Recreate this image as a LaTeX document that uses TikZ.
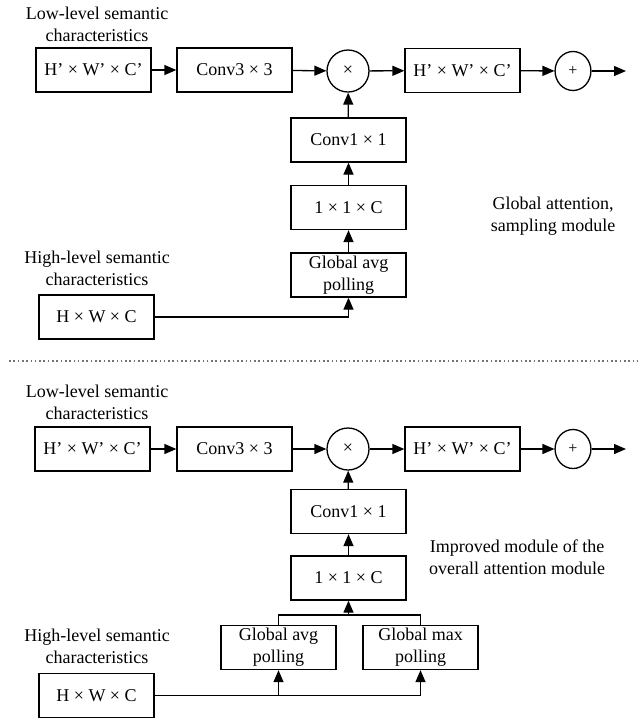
\documentclass[tikz,border=0pt]{standalone}
\usepackage{fontspec}
\setmainfont{Liberation Serif}
\usetikzlibrary{arrows.meta}
\begin{document}
\begin{tikzpicture}[x=1pt,y=-1pt,
  font=\fontsize{18pt}{22pt}\selectfont,
  box/.style={draw,line width=1.3pt,minimum width=115pt,minimum height=44pt,inner sep=0pt,align=center},
  opc/.style={draw,line width=1.3pt,circle,minimum size=42pt,inner sep=0pt},
  lbl/.style={align=center,inner sep=0pt},
  con/.style={line width=1.3pt,-{Triangle[length=12pt,width=10pt]}},
  pln/.style={line width=1.3pt}]
\useasboundingbox (0,0) rectangle (640,721);

% ---------- top section ----------
\node[lbl] (tlow) at (97,24) {Low-level semantic\\characteristics};
\node[box] (ta) at (93.5,70) {H’ × W’ × C’};
\node[box] (tc) at (234.5,70) {Conv3 × 3};
\node[opc] (tx) at (348,71) {×};
\node[box] (tb) at (462.5,70.5) {H’ × W’ × C’};
\node[draw,line width=1.3pt,circle,minimum size=39pt,inner sep=0pt,xscale=0.92] (tp) at (573,71) {};
\node[font=\fontsize{16pt}{18pt}\selectfont] at (573,71) {+};
\coordinate (tout) at (626,71);
\node[box] (tconv) at (348.5,140) {Conv1 × 1};
\node[box] (tone) at (348.5,207.5) {1 × 1 × C};
\node[box] (tavg) at (348.5,275) {Global avg\\polling};
\node[lbl] (thigh) at (97,268) {High-level semantic\\characteristics};
\node[box] (thwc) at (96.5,317) {H × W × C};
\node[lbl] (tgl) at (553,216.5) {Global attention,\\sampling module};

\draw[con] (ta) -- (tc);
\draw[con] (tc) -- (tx);
\draw[con] (tx) -- (tb);
\draw[con] (tb) -- (tp);
\draw[con] (tp) -- (tout);
\draw[con] (tconv) -- (tx);
\draw[con] (tone) -- (tconv);
\draw[con] (tavg) -- (tone);
\draw[con] (thwc.east) -| (tavg.south);

% ---------- separator ----------
\coordinate (sepL) at (9,361);
\coordinate (sepR) at (640,361);
\draw[black!55,line width=1.6pt,dash pattern=on 1.6pt off 2.7pt] (sepL) -- (sepR);

% ---------- bottom section ----------
\node[lbl] (blow) at (97,402) {Low-level semantic\\characteristics};
\node[box] (ba) at (92.5,449) {H’ × W’ × C’};
\node[box] (bc) at (234.5,449) {Conv3 × 3};
\node[opc] (bx) at (348,449) {×};
\node[box] (bb) at (462.5,449) {H’ × W’ × C’};
\node[draw,line width=1.3pt,circle,minimum size=39pt,inner sep=0pt,xscale=0.92] (bp) at (573,449) {};
\node[font=\fontsize{16pt}{18pt}\selectfont] at (573,449) {+};
\coordinate (bout) at (626,449);
\node[box] (bconv) at (348.5,511.5) {Conv1 × 1};
\node[box] (bone) at (348.5,578) {1 × 1 × C};
\node[box] (bavg) at (278.5,647.5) {Global avg\\polling};
\node[box] (bmax) at (420.5,647.5) {Global max\\polling};
\node[lbl] (bhigh) at (97,646.5) {High-level semantic\\characteristics};
\node[box] (bhwc) at (96.5,695.5) {H × W × C};
\node[lbl] (bim) at (517,557) {Improved module of the\\overall attention module};

\coordinate (merge) at (348.5,615);
\coordinate (split) at (278.5,696);

\draw[con] (ba) -- (bc);
\draw[con] (bc) -- (bx);
\draw[con] (bx) -- (bb);
\draw[con] (bb) -- (bp);
\draw[con] (bp) -- (bout);
\draw[con] (bconv) -- (bx);
\draw[con] (bone) -- (bconv);
\draw[pln] (bavg.north) |- (merge) -| (bmax.north);
\draw[con] (merge) -- (bone.south);
\draw[con] (bhwc.east) -| (bmax.south);
\draw[con] (split) -- (bavg.south);
\end{tikzpicture}
\end{document}
